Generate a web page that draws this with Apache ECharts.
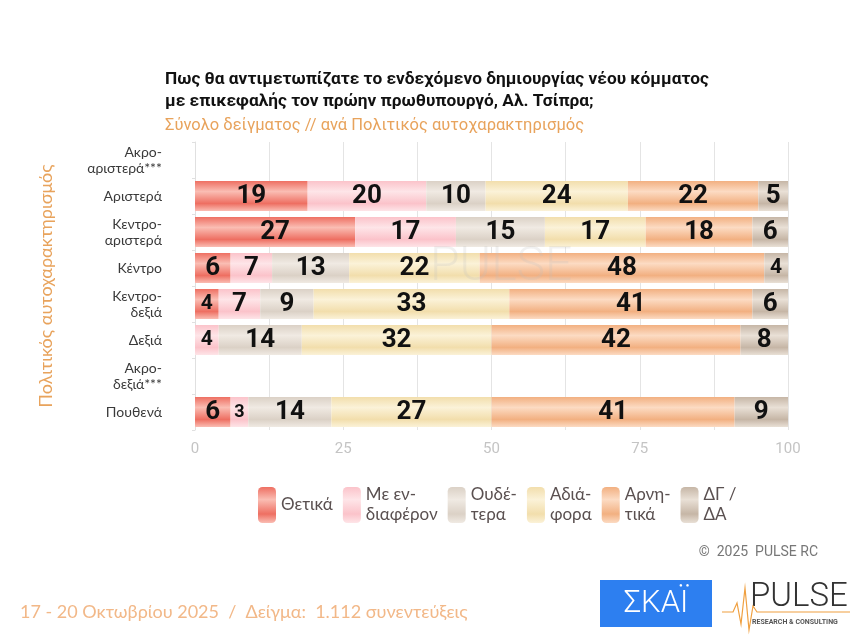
<!DOCTYPE html>
<html><head><meta charset="utf-8">
<script src="https://cdn.jsdelivr.net/npm/echarts@6/dist/echarts.min.js"></script>
<style>html,body{margin:0;padding:0;background:#fff}#c{width:857px;height:635px}</style>
</head><body><div id="c"></div>
<script>
const categories = ['Ακρο-\nαριστερά***','Αριστερά','Κεντρο-\nαριστερά','Κέντρο','Κεντρο-\nδεξιά','Δεξιά','Ακρο-\nδεξιά***','Πουθενά'];
const seriesNames = ['Θετικά','Με εν-\nδιαφέρον','Ουδέ-\nτερα','Αδιά-\nφορα','Αρνη-\nτικά','ΔΓ /\nΔΑ'];
const thetika     = [null, 19, 27, 6, 4, 0, null, 6];
const endiaferon  = [null, 20, 17, 7, 7, 4, null, 3];
const oudetera    = [null, 10, 15, 13, 9, 14, null, 14];
const adiafora    = [null, 24, 17, 22, 33, 32, null, 27];
const arnitika    = [null, 22, 18, 48, 41, 42, null, 41];
const dgda        = [null, 5, 6, 4, 6, 8, null, 9];
const xTicks = [0, 25, 50, 75, 100];

const seriesData = [thetika, endiaferon, oudetera, adiafora, arnitika, dgda];
const palette = [
  ['#ee6f62','#fabdb3'],
  ['#fbc3ca','#fee5e8'],
  ['#dbd1c6','#f0eae3'],
  ['#f2deac','#fbf2d8'],
  ['#f2b081','#fcdbc3'],
  ['#c6b6a6','#e9e0d6']
];
function grad(c){
  return new echarts.graphic.LinearGradient(0,0,0,1,[
    {offset:0,color:c[0]},{offset:0.35,color:c[1]},{offset:0.75,color:c[0]},{offset:1,color:c[1]}
  ]);
}
const series = seriesNames.map((n,i)=>({
  name:n, type:'bar', stack:'t', barWidth:30,
  itemStyle:{color:grad(palette[i])},
  label:{show:true, position:'inside', color:'#111', fontFamily:'Roboto', fontWeight:'bold', fontSize:26,
    formatter:p=> (p.value? String(p.value):'')},
  data: seriesData[i].map(v=> v==null? null : (v<=4 ? {value:v, label:{fontSize:v<=3?18:21}} : v))
}));

const chart = echarts.init(document.getElementById('c'));
chart.setOption({
  animation:false,
  title:{
    text:'Πως θα αντιμετωπίζατε το ενδεχόμενο δημιουργίας νέου κόμματος\nμε επικεφαλής τον πρώην πρωθυπουργό, Αλ. Τσίπρα;',
    subtext:'Σύνολο δείγματος // ανά Πολιτικός αυτοχαρακτηρισμός',
    left:160, top:64, itemGap:4,
    textStyle:{fontFamily:'Roboto', fontWeight:'bold', fontSize:17.3, lineHeight:22, color:'#111'},
    subtextStyle:{fontFamily:'Roboto', fontSize:16.5, color:'#e8a35c'}
  },
  grid:{left:195, right:69, top:142, bottom:205},
  xAxis:{type:'value', min:0, max:100, interval:12.5,
    axisLine:{show:false}, axisTick:{show:false},
    splitLine:{lineStyle:{color:'#e4e4e4'}},
    axisLabel:{color:'#c4c4c4', fontFamily:'Roboto', fontSize:15, margin:12,
      formatter:v=> xTicks.includes(v)? String(v):''}
  },
  yAxis:{type:'category', data:categories, inverse:true,
    axisLine:{lineStyle:{color:'#e0e0e0'}}, axisTick:{show:true, lineStyle:{color:'#e0e0e0'}, length:3},
    axisLabel:{color:'#3a3a3a', fontFamily:'Lato, "Noto Sans"', fontSize:14, lineHeight:16, margin:33, align:'right'},
    name:'Πολιτικός αυτοχαρακτηρισμός', nameLocation:'middle', nameGap:140, nameRotate:90,
    nameTextStyle:{color:'#e8a35c', fontFamily:'Lato, "Noto Sans"', fontSize:18}
  },
  legend:{left:253, top:480, itemWidth:18, itemHeight:36, itemGap:10,
    textStyle:{color:'#5a5050', fontFamily:'Lato, "Noto Sans"', fontSize:17, lineHeight:20},
    data:seriesNames},
  series:series,
  graphic:[
    {type:'text', left:430, top:244, z:100, style:{text:'PULSE', fontSize:48, fontFamily:'Roboto', fontWeight:300, fill:'rgba(190,190,190,0.22)'}},
    {type:'text', right:39, top:545, style:{text:'©  2025  PULSE RC', fontSize:14, fontFamily:'Roboto', fill:'#777'}},
    {type:'text', left:20, top:603, style:{text:'17 - 20 Οκτωβρίου 2025  /  Δείγμα:  1.112 συνεντεύξεις', fontSize:18, fontFamily:'Lato, "Noto Sans"', fill:'#f2b888'}},
    {type:'rect', shape:{x:600,y:580,width:112,height:47}, style:{fill:'#2d7ff0'}},
    {type:'text', x:656, y:604, style:{text:'ΣΚΑΪ', fontSize:31, fontFamily:'Roboto', fontWeight:300, fill:'#fff', align:'center', verticalAlign:'middle'}},
    {type:'text', left:750, top:581, style:{text:'PULSE', fontSize:33, fontFamily:'Roboto', fontWeight:300, fill:'#333'}},
    {type:'text', left:752, top:619, style:{text:'RESEARCH & CONSULTING', fontSize:7, fontFamily:'Roboto', fontWeight:'bold', fill:'#555'}},
    {type:'polyline', shape:{points:[[722,612],[733,612],[737,603],[741,624],[745,588],[749,630],[753,606],[757,612],[850,612]]}, style:{stroke:'#f0a040', lineWidth:1.2, fill:null}}
  ]
});
</script></body></html>
